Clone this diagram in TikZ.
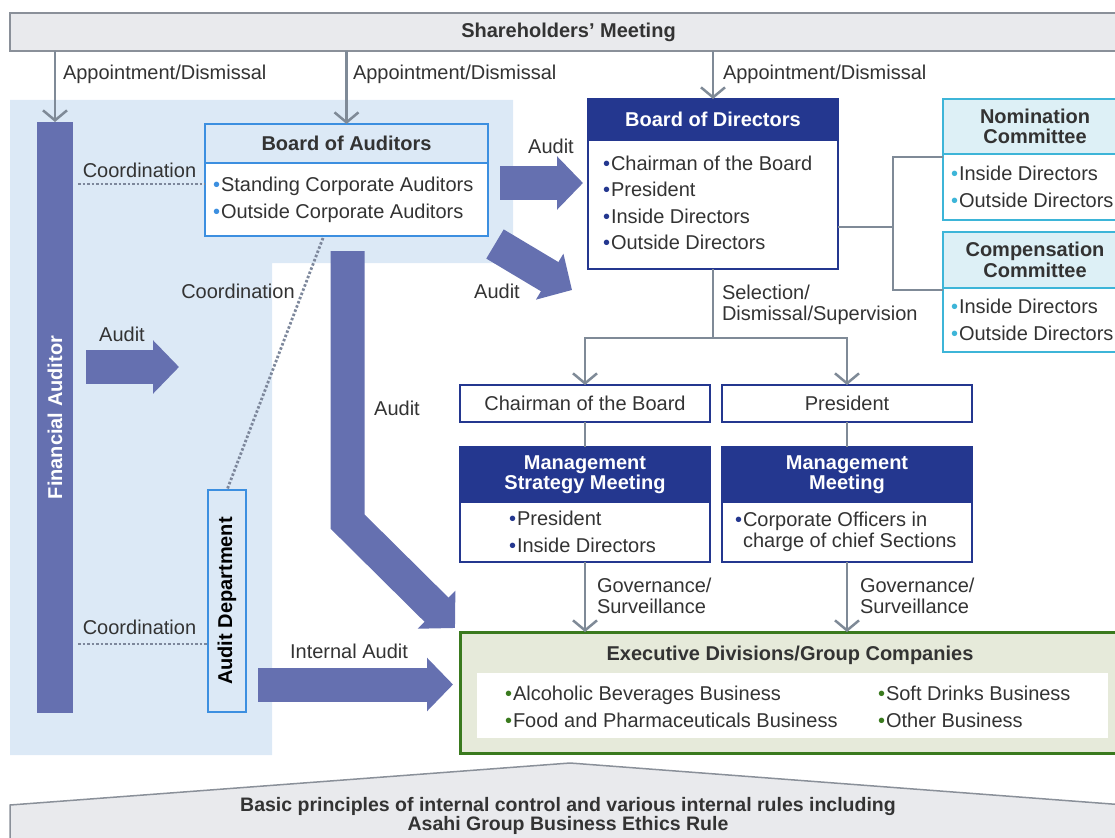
\documentclass[tikz,border=0pt]{standalone}
\usepackage{fontspec}
\setmainfont{Liberation Sans}
\usetikzlibrary{arrows.meta,calc}
\definecolor{txt}{HTML}{333333}
\definecolor{region}{HTML}{DCE9F6}
\definecolor{fatcol}{HTML}{6570B0}
\definecolor{navy}{HTML}{24378F}
\definecolor{audblue}{HTML}{3C8FE0}
\definecolor{cyanb}{HTML}{3DB5D8}
\definecolor{cyanf}{HTML}{DDF0F6}
\definecolor{exfill}{HTML}{E6EADA}
\definecolor{exgreen}{HTML}{3A7A1E}
\definecolor{shfill}{HTML}{E9EAED}
\definecolor{shdraw}{HTML}{8A9099}
\definecolor{conncol}{HTML}{7F8A97}
\definecolor{dotcol}{HTML}{7D879B}
\newcommand\fsz{\fontsize{20}{20.5}\selectfont}
\newcommand\bl[1]{{\color{#1}\textbullet}\kern1pt}
\tikzset{
  every node/.style={inner sep=0pt, outer sep=0pt, font=\fsz, text=txt},
  hd/.style={draw=navy, fill=navy, line width=1.5pt, text=white, align=center, font=\fsz\bfseries},
  bd/.style={draw=navy, fill=white, line width=1.5pt},
  audH/.style={draw=audblue, fill=region, line width=1.5pt, font=\fsz\bfseries},
  audB/.style={draw=audblue, fill=white, line width=1.5pt},
  cyH/.style={draw=cyanb, fill=cyanf, line width=1.5pt, align=center, font=\fsz\bfseries},
  cyB/.style={draw=cyanb, fill=white, line width=1.5pt},
  lst/.style={anchor=west, align=left, font=\fontsize{20}{26.5}\selectfont},
  conn/.style={draw=conncol, line width=2.5pt},
  arr/.style={conn, -{Straight Barb[length=10pt,width=24pt]}},
  dots/.style={draw=dotcol, line width=2.8pt, dash pattern=on 2.5pt off 2pt},
  fat/.style={draw=fatcol, line width=34pt, -{Triangle[length=26pt,width=52pt]}},
  shbar/.style={draw=shdraw, fill=shfill, line width=1.5pt}
}
\begin{document}
\begin{tikzpicture}[x=1pt,y=-1pt]
\useasboundingbox (0,0) rectangle (1115,837);
% light blue region
\fill[region] (10,100) -- (513,100) -- (513,263) -- (272,263) -- (272,755) -- (10,755) -- cycle;

% Shareholders
\node[shbar, minimum width=1117pt, minimum height=38pt, anchor=north west, font=\fsz\bfseries] (sh) at (10,13) {Shareholders' Meeting};

% Financial auditor
\node[fill=fatcol, minimum width=591pt, minimum height=36pt, rotate=90, text=white, font=\fsz\bfseries] (fa) at (55,417.5) {Financial Auditor};

% Board of Auditors
\node[audH, minimum width=283pt, minimum height=39pt, anchor=north west] (boaH) at (205,124) {Board of Auditors};
\node[audB, minimum width=283pt, minimum height=73pt, anchor=north west] (boaB) at (205,163) {};
\node[lst] (boaT) at (213,200) {\bl{audblue}Standing Corporate Auditors\\\bl{audblue}Outside Corporate Auditors};

% Audit Department
\node[draw=audblue, fill=region, line width=1.5pt, minimum width=222pt, minimum height=38pt, rotate=90, text=black, font=\fsz\bfseries] (ad) at (227,601) {Audit Department};

% Board of Directors
\node[hd, minimum width=250pt, minimum height=41pt, anchor=north west] (bodH) at (588,99) {Board of Directors};
\node[bd, minimum width=250pt, minimum height=129pt, anchor=north west] (bodB) at (588,140) {};
\node[lst] (bodT) at (603,203) {\bl{navy}Chairman of the Board\\\bl{navy}President\\\bl{navy}Inside Directors\\\bl{navy}Outside Directors};

% Committees
\node[cyH, minimum width=184pt, minimum height=55pt, anchor=north west] (nomH) at (943,99) {Nomination\\Committee};
\node[cyB, minimum width=184pt, minimum height=66pt, anchor=north west] (nomB) at (943,154) {};
\node[lst] (nomT) at (951,187) {\bl{cyanb}Inside Directors\\\bl{cyanb}Outside Directors};
\node[cyH, minimum width=184pt, minimum height=56pt, anchor=north west] (cmpH) at (943,232) {Compensation\\Committee};
\node[cyB, minimum width=184pt, minimum height=64pt, anchor=north west] (cmpB) at (943,288) {};
\node[lst] (cmpT) at (951,320) {\bl{cyanb}Inside Directors\\\bl{cyanb}Outside Directors};

% Chairman / President
\node[bd, minimum width=250pt, minimum height=37pt, anchor=north west] (chair) at (460,385) {Chairman of the Board};
\node[bd, minimum width=250pt, minimum height=37pt, anchor=north west] (pres) at (722,385) {President};

% Management meetings
\node[hd, minimum width=250pt, minimum height=55pt, anchor=north west] (msmH) at (460,447) {Management\\Strategy Meeting};
\node[bd, minimum width=250pt, minimum height=60pt, anchor=north west] (msmB) at (460,502) {};
\node[lst] (msmT) at (509,532) {\bl{navy}President\\\bl{navy}Inside Directors};
\node[hd, minimum width=250pt, minimum height=55pt, anchor=north west] (mmH) at (722,447) {Management\\Meeting};
\node[bd, minimum width=250pt, minimum height=60pt, anchor=north west] (mmB) at (722,502) {};
\node[anchor=west, align=left] (mmT) at (735,532) {\bl{navy}Corporate Officers in\\\phantom{\textbullet}\kern1pt charge of chief Sections};

% Executive divisions
\node[draw=exgreen, fill=exfill, line width=3pt, minimum width=660pt, minimum height=121pt, anchor=north west] (ex) at (460,632) {};
\node[fill=white, minimum width=631pt, minimum height=65pt, anchor=north west] (exIn) at (477,673) {};
\node[font=\fsz\bfseries] (exT) at (790,655) {Executive Divisions/Group Companies};
\node[lst] (exL) at (505,707) {\bl{exgreen}Alcoholic Beverages Business\\\bl{exgreen}Food and Pharmaceuticals Business};
\node[lst] (exR) at (878,707) {\bl{exgreen}Soft Drinks Business\\\bl{exgreen}Other Business};

% Bottom base shape
\filldraw[shbar] (10,845) -- (10,805) -- (570,763) -- (1125,805) -- (1125,845) -- cycle;
\node[align=center, font=\fontsize{19.5}{19}\selectfont\bfseries] (basic) at (568,816) {Basic principles of internal control and various internal rules including\\Asahi Group Business Ethics Rule};

% Appointment arrows
\draw[arr] (sh.south -| fa.east) -- (fa.east);
\draw[arr] (sh.south -| boaH.north) -- (boaH.north);
\draw[arr] (sh.south -| bodH.north) -- (bodH.north);
\node[anchor=west] (ap1) at (63,74) {Appointment/Dismissal};
\node[anchor=west] (ap2) at (353,74) {Appointment/Dismissal};
\node[anchor=west] (ap3) at (723,74) {Appointment/Dismissal};

% Coordination lines
\coordinate (c1) at (78,184);
\draw[dots] (c1) -- (c1 -| boaB.west);
\node (co1) at (139.5,170) {Coordination};
\draw[dots] ($(boaB.south)+(-23.5,2)$) -- (ad.east);
\node (co2) at (238,291) {Coordination};
\coordinate (c3) at (78,644);
\draw[dots] (c3) -- (c3 -| ad.north);
\node (co3) at (139.5,627) {Coordination};

% Fat audit arrows
\coordinate (fa1s) at (86,367);
\coordinate (fa1e) at (179,367);
\draw[fat] (fa1s) -- (fa1e);
\node (au1) at (122,334) {Audit};
\draw[fat] ($(boaB.east)+(12,-16.5)$) -- ($(bodB.west)+(-5,-21.5)$);
\node (au2) at (551,146) {Audit};
\draw[fat] ($(boaB.south east)+(7,8)$) -- ($(bodB.south west)+(-16,21)$);
\node (au3) at (497,291) {Audit};
\draw[fat] ($(boaB.south)+(1,15)$) -- (347.5,521.5) -- ($(ex.north west)+(-5,-4)$);
\node (au4) at (397,408) {Audit};
\draw[fat] ($(ad.south)+(12,83.5)$) -- ($(ex.west)+(-7,-8)$);
\node (au5) at (349,651) {Internal Audit};

% Board to committees
\coordinate (br) at (893,227);
\draw[conn] (bodB.east |- br) -- (br);
\draw[conn] ($(nomB.north west)+(0,3)$) -| (br) |- ($(cmpB.north west)+(0,2)$);

% Selection / supervision
\coordinate (sel) at ($(bodB.south)+(0,69)$);
\draw[conn] (bodB.south) -- (sel);
\draw[arr] (sel) -| (chair.north);
\draw[arr] (sel) -| (pres.north);
\node[anchor=west, align=left] (sellbl) at (722,305) {Selection/\\Dismissal/Supervision};

\draw[conn] (chair.south) -- (msmH.north);
\draw[conn] (pres.south) -- (mmH.north);

% Governance
\draw[arr] (msmB.south) -- (msmB.south |- ex.north);
\draw[arr] (mmB.south) -- (mmB.south |- ex.north);
\node[anchor=west, align=left] (gv1) at (597,596) {Governance/\\Surveillance};
\node[anchor=west, align=left] (gv2) at (860,596) {Governance/\\Surveillance};
\end{tikzpicture}
\end{document}
